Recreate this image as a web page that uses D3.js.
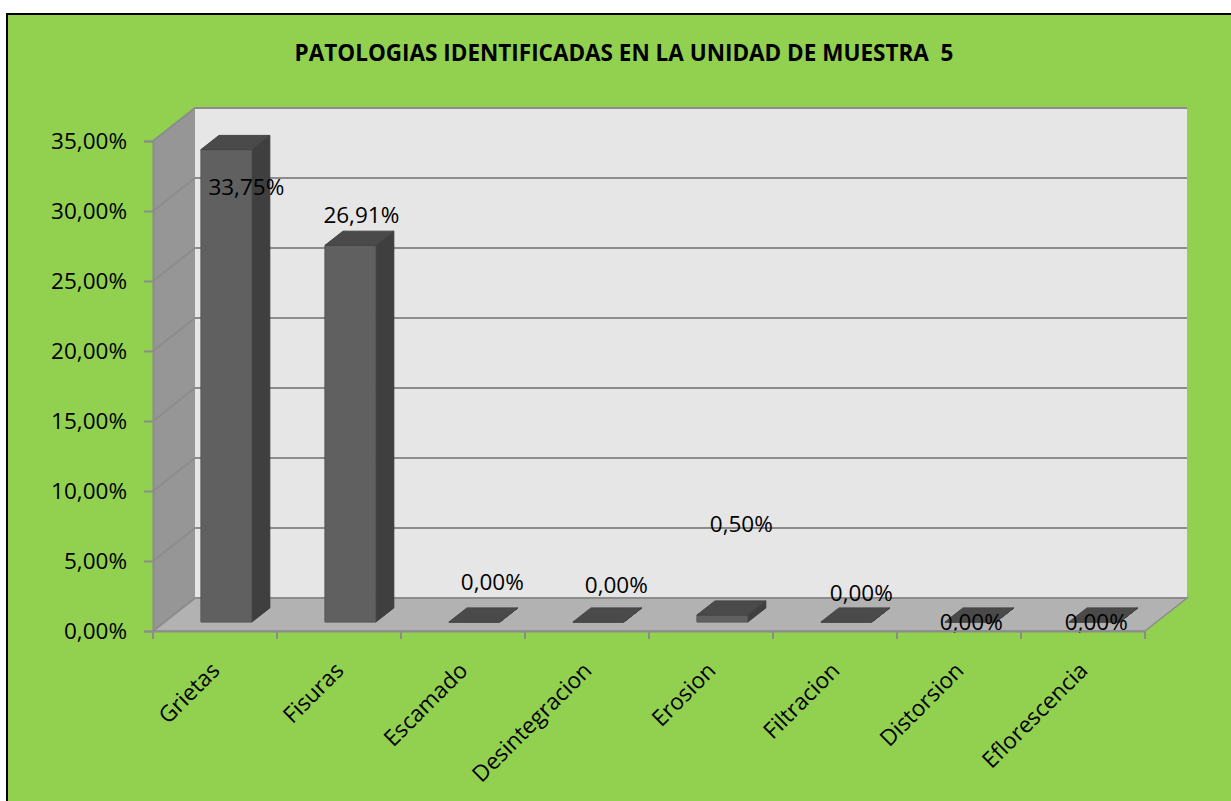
<!DOCTYPE html>
<html>
<head>
<meta charset="utf-8">
<script src="https://cdn.jsdelivr.net/npm/d3@7/dist/d3.min.js"></script>
<style>
  body { margin: 0; background: #fff; }
  text { font-family: "Open Sans", "Liberation Sans", sans-serif; fill: #000; }
</style>
</head>
<body>
<div class="visHolder"></div>
<script>
// data
const categories = ['Grietas', 'Fisuras', 'Escamado', 'Desintegracion', 'Erosion', 'Filtracion', 'Distorsion', 'Eflorescencia'];
const values = [0.3375, 0.2691, 0, 0, 0.005, 0, 0, 0];
const yTicks = [0, 0.05, 0.10, 0.15, 0.20, 0.25, 0.30, 0.35];
const title = 'PATOLOGIAS IDENTIFICADAS EN LA UNIDAD DE MUESTRA  5';

// where excel dropped the value labels, relative to the bar top (px)
const labelNudge = [[20, 38], [11, -30], [18, -40], [18, -37], [19, -91], [15, -29], [1, 0], [2, 0]];

const w = 1231, h = 801;
const DX = 42, DY = 33;          // depth of the 3d box
const zFront = 0.27, zBack = 0.70; // bar depth inside the box

const svg = d3.select('.visHolder')
  .append('svg')
  .attr('width', w)
  .attr('height', h);

svg.append('rect')
  .attr('x', 7).attr('y', 14)
  .attr('width', 1240).attr('height', 800)
  .attr('fill', '#92d050')
  .attr('stroke', '#000')
  .attr('stroke-width', 2);

svg.append('text')
  .attr('x', 624).attr('y', 61)
  .attr('text-anchor', 'middle')
  .style('font-weight', 'bold')
  .style('font-size', '22.5px')
  .style('white-space', 'pre')
  .text(title);

const xScale = d3.scaleBand()
  .domain(categories)
  .range([153, 1145]);

const yScale = d3.scaleLinear()
  .domain([0, 0.35])
  .range([631, 141]);

// project a point at depth z (0 = front, 1 = back)
const proj = (x, y, z) => [x + z * DX, y - z * DY];
const poly = pts => 'M' + pts.map(p => p.join(',')).join('L') + 'Z';

const x0 = xScale.range()[0], x1 = xScale.range()[1];
const yTop = yScale(0.35), yBase = yScale(0);

// side wall
svg.append('path')
  .attr('d', poly([proj(x0, yBase, 0), proj(x0, yTop, 0), proj(x0, yTop, 1), proj(x0, yBase, 1)]))
  .attr('fill', '#969696');

// back wall
svg.append('path')
  .attr('d', poly([proj(x0, yBase, 1), proj(x0, yTop, 1), proj(x1, yTop, 1), proj(x1, yBase, 1)]))
  .attr('fill', '#e6e6e6');

// floor
svg.append('path')
  .attr('d', poly([proj(x0, yBase, 0), proj(x0, yBase, 1), proj(x1, yBase, 1), proj(x1, yBase, 0)]))
  .attr('fill', '#b2b2b2')
  .attr('stroke', '#8c8c8c')
  .attr('stroke-width', 1.5);

// gridlines on side and back wall
const grid = svg.append('g')
  .attr('fill', 'none')
  .attr('stroke', '#8c8c8c')
  .attr('stroke-width', 2);

yTicks.forEach(t => {
  const a = proj(x0, yScale(t), 0);
  const b = proj(x0, yScale(t), 1);
  const c = proj(x1, yScale(t), 1);
  grid.append('path').attr('d', `M${a}L${b}L${c}`);
});

// bars
const bw = xScale.bandwidth() * 0.41;

const bars = svg.selectAll('.bar')
  .data(categories)
  .enter()
  .append('g')
  .attr('class', 'bar');

bars.each(function (c, i) {
  const g = d3.select(this);
  const cx = xScale(c) + xScale.bandwidth() / 2;
  const l = cx - bw / 2, r = cx + bw / 2;
  const yb = yScale(0), yt = yScale(values[i]);

  // side face
  g.append('path')
    .attr('d', poly([proj(r, yb, zFront), proj(r, yt, zFront), proj(r, yt, zBack), proj(r, yb, zBack)]))
    .attr('fill', '#3f3f3f')
    .attr('stroke', '#3a3a3a').attr('stroke-width', 1);
  // front face
  g.append('path')
    .attr('d', poly([proj(l, yb, zFront), proj(l, yt, zFront), proj(r, yt, zFront), proj(r, yb, zFront)]))
    .attr('fill', '#606060')
    .attr('stroke', '#555').attr('stroke-width', 1);
  // top
  g.append('path')
    .attr('d', poly([proj(l, yt, zFront), proj(l, yt, zBack), proj(r, yt, zBack), proj(r, yt, zFront)]))
    .attr('fill', '#4a4a4a')
    .attr('stroke', '#444').attr('stroke-width', 1);
});

// value labels
const fmt = v => (v * 100).toFixed(2).replace('.', ',') + '%';

svg.selectAll('.value-label')
  .data(categories)
  .enter()
  .append('text')
  .attr('class', 'value-label')
  .attr('x', (c, i) => proj(xScale(c) + xScale.bandwidth() / 2, yScale(values[i]), zFront)[0] + labelNudge[i][0])
  .attr('y', (c, i) => proj(xScale(c) + xScale.bandwidth() / 2, yScale(values[i]), zFront)[1] + labelNudge[i][1])
  .attr('text-anchor', 'middle')
  .attr('dy', '0.35em')
  .style('font-size', '22.5px')
  .text((c, i) => fmt(values[i]));

// y axis on the front edge
const yAxis = d3.axisLeft(yScale)
  .tickValues(yTicks)
  .tickSize(9)
  .tickPadding(17)
  .tickFormat(d => (d * 100).toFixed(2).replace('.', ',') + '%');

const yg = svg.append('g')
  .attr('id', 'y-axis')
  .attr('transform', `translate(${x0}, 0)`)
  .call(yAxis);
yg.select('.domain').attr('stroke', '#8c8c8c').attr('stroke-width', 2);
yg.selectAll('.tick line').attr('stroke', '#8c8c8c').attr('stroke-width', 2);
yg.selectAll('.tick text').style('font-size', '22.5px').attr('fill', '#000');

// x axis on the front edge
const xAxis = d3.axisBottom(xScale).tickSize(0).tickFormat('');
const xg = svg.append('g')
  .attr('id', 'x-axis')
  .attr('transform', `translate(0, ${yBase})`)
  .call(xAxis);
xg.select('.domain').attr('stroke', '#8c8c8c').attr('stroke-width', 2);

// boundary ticks between categories
xg.selectAll('.sep')
  .data(d3.range(categories.length + 1))
  .enter()
  .append('line')
  .attr('class', 'sep')
  .attr('x1', i => x0 + i * xScale.step())
  .attr('x2', i => x0 + i * xScale.step())
  .attr('y1', 0).attr('y2', 8)
  .attr('stroke', '#8c8c8c')
  .attr('stroke-width', 2);

svg.selectAll('.cat-label')
  .data(categories)
  .enter()
  .append('text')
  .attr('class', 'cat-label')
  .attr('text-anchor', 'end')
  .style('font-size', '22.5px')
  .attr('transform', c => `translate(${xScale(c) + xScale.bandwidth() / 2 + 6}, 672) rotate(-45)`)
  .text(c => c);
</script>
</body>
</html>
